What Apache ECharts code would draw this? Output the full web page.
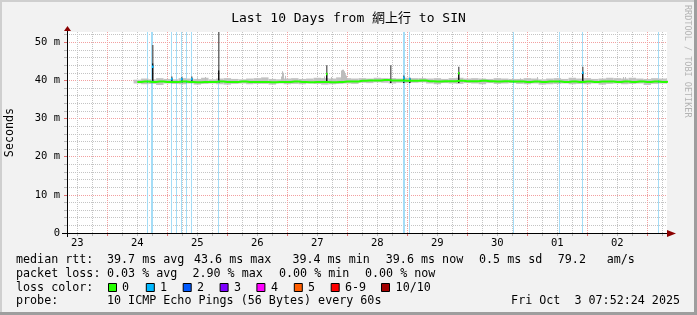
<!DOCTYPE html>
<html><head><meta charset="utf-8">
<script src="https://cdn.jsdelivr.net/npm/echarts@6/dist/echarts.min.js"></script>
<style>html,body{margin:0;padding:0;background:#f2f2f2}#c{width:697px;height:315px}</style>
</head><body><div id="c"></div>
<script>
// ---------- data ----------
const titleText = 'Last 10 Days from 網上行 to SIN';
const yAxisTitle = 'Seconds';
const dayLabels = ['23','24','25','26','27','28','29','30','01','02'];
const yTickValues = [0,10,20,30,40,50];
const yTickLabels = ['0','10 m','20 m','30 m','40 m','50 m'];
const axisStartHour = 7.8733;     // Sep 23 07:52:24 (hours since Sep 23 00:00)
const axisSpanHours = 240;        // 10 days
const yMaxMs = 52.7;
const sampleStartHour = 36;
const sampleStepHours = 3;

const medianMs = [
39.6,39.7,39.6,39.7,39.6,39.6,39.7,39.6,39.5,39.6,39.6,39.7,39.6,39.6,39.7,39.6,39.6,
39.6,39.5,39.6,39.6,39.7,39.6,39.5,39.6,39.6,39.5,39.6,39.7,39.7,
39.9,40.0,40.0,40.1,40.0,40.0,39.9,39.9,40.0,
39.8,39.7,39.8,39.8,39.9,39.8,39.8,39.9,39.8,39.7,39.8,39.7,
39.7,39.6,39.7,39.6,39.7,39.7,39.6,39.7,39.6,39.7,39.6,39.7,39.7,39.6,39.7,39.6,39.7,39.6,39.7,39.6,39.7
];
const smokeHiMs = [
40.2,40.5,40.3,40.6,40.4,40.3,40.6,40.5,40.4,40.7,40.3,40.5,40.6,40.4,40.3,40.5,40.6,
40.8,40.4,40.3,40.5,40.6,40.4,40.5,40.7,40.6,40.5,40.8,40.6,40.5,
40.6,40.5,40.7,40.6,40.6,40.5,40.7,40.6,40.6,
40.5,40.6,40.4,40.6,40.7,40.5,40.6,40.5,40.4,40.6,40.5,40.4,
40.4,40.6,40.5,40.3,40.5,40.6,40.4,40.7,40.5,40.6,40.4,40.5,40.7,40.6,40.5,40.7,40.5,40.4,40.6,40.5,40.6
];
const smokeLoMs = [
39.2,39.0,39.1,38.8,39.2,39.1,39.0,39.2,38.9,39.1,39.2,39.0,38.9,39.1,39.2,39.0,39.1,
39.1,38.9,39.2,39.0,39.1,39.0,39.2,39.1,38.9,39.0,39.1,39.2,39.1,
39.4,39.3,39.5,39.4,39.2,39.4,39.3,39.4,39.5,
39.2,39.0,39.3,39.2,39.1,39.3,39.2,39.0,39.3,39.1,39.2,39.3,
39.1,39.0,39.2,38.9,39.0,39.1,39.2,39.0,39.1,39.0,39.2,38.9,39.1,39.2,39.0,39.1,39.2,38.8,39.1,39.2,39.1
];
// [hour, top of dark smoke, top of grey smoke, median at spike (null = none), lost pings]
const spikes = [
[42.1,44.5,49.3,43.6,1],
[49.6,40.7,41.0,40.4,1],
[53.6,40.6,40.9,40.4,1],
[57.7,40.7,41.0,40.4,1],
[68.6,42.7,52.7,null,0],
[111.6,41.9,44.0,41.7,0],
[137.4,39.8,44.0,null,0],
[142.3,41.0,41.3,40.7,1],
[144.9,40.5,40.7,40.3,1],
[164.5,42.2,43.6,41.9,0],
[214.0,42.3,43.6,42.0,1]
];
const spikeBaseMs = 39.6;
// light grey smoke bumps [hour, top]
const bumps = [
[60.0,40.8],[63.3,40.9],[93.6,41.0],[94.0,42.4],[94.4,42.0],[95.2,41.2],[110.8,41.0],[113.6,40.9],
[117.6,42.6],[118.0,42.8],[118.4,42.8],[118.8,42.4],[119.2,41.6],[119.6,41.2],
[150.0,40.9],[189.3,40.6],[196.0,40.9],[230.4,40.9],[231.2,40.9]
];
// hours with 1 lost ping
const lossHours = [40.24,41.8,42.2,49.84,51.84,53.84,55.84,57.84,68.64,142.6,143.0,145.04,186.3,205.04,214.24,244.3];

const lossLabels = ['0','1','2','3','4','5','6-9','10/10'];
const lossColors = ['#26ff00','#00b8ff','#0059ff','#7e00ff','#ff00ff','#ff5e00','#ff0000','#a10000'];

const rttRow = ['median rtt:','39.7 ms avg','43.6 ms max','39.4 ms min','39.6 ms now','0.5 ms sd','79.2','am/s'];
const lossRow = ['packet loss:','0.03 % avg','2.90 % max','0.00 % min','0.00 % now'];
const colorRowLabel = 'loss color:';
const probeRow = ['probe:','10 ICMP Echo Pings (56 Bytes) every 60s'];
const stampText = 'Fri Oct  3 07:52:24 2025';
const watermark = 'RRDTOOL / TOBI OETIKER';

// ---------- chart ----------
const mono = '"DejaVu Sans Mono", "Noto Sans CJK TC", monospace';
const xMin = axisStartHour, xMax = axisStartHour + axisSpanHours;
const minorX = [], majorX = [], labelX = [];
for (let h = 0; h <= 264; h += 6) {
  if (h < xMin || h > xMax) continue;
  if (h % 24 === 0) majorX.push(h); else minorX.push(h);
}
for (let d = 0; d < dayLabels.length; d++) labelX.push(12 + 24 * d);
const minorY = [];
for (let v = 2; v < yMaxMs; v += 2) if (v % 10 !== 0) minorY.push(v);

const medianData = medianMs.map((m, i) => [sampleStartHour + i * sampleStepHours, m]);
const smokeData = medianMs.map((m, i) => [sampleStartHour + i * sampleStepHours, smokeLoMs[i], smokeHiMs[i]]);
function medianAt(h) {
  let i = Math.round((h - sampleStartHour) / sampleStepHours);
  i = Math.max(0, Math.min(medianMs.length - 1, i));
  return medianMs[i];
}

const chart = echarts.init(document.getElementById('c'), null, {renderer: 'canvas'});

const legendRowsY = [259.5, 273.5, 287.5, 301];
const rttX = [16,107,194,292.4,385.8,479,557.8,606.7];
const lossX = [16,107,192.4,279,365];
const sqX = [108,145.8,182.7,219.6,256.4,293.8,330.7,381];
const sqLabelX = [122,160,197,234,271,308,345,395.6];
const font = '11.7px ' + mono;
function txt(x, y, s, extra) {
  return {type:'text', x:x, y:y, silent:true, z:100,
    style:Object.assign({text:s, font:font, fill:'#000', align:'left', verticalAlign:'middle'}, extra || {})};
}
const graphics = [
  {type:'rect', shape:{x:0,y:0,width:697,height:2}, style:{fill:'#cfcfcf'}, silent:true, z:100},
  {type:'rect', shape:{x:0,y:0,width:2,height:315}, style:{fill:'#cfcfcf'}, silent:true, z:100},
  {type:'rect', shape:{x:694,y:0,width:3,height:315}, style:{fill:'#9e9e9e'}, silent:true, z:100},
  {type:'rect', shape:{x:0,y:312,width:697,height:3}, style:{fill:'#9e9e9e'}, silent:true, z:100},
  {type:'line', shape:{x1:62,y1:233.5,x2:668,y2:233.5}, style:{stroke:'#000',lineWidth:1}, silent:true, z:90},
  {type:'line', shape:{x1:67.5,y1:30,x2:67.5,y2:237}, style:{stroke:'#000',lineWidth:1}, silent:true, z:90},
  {type:'polygon', shape:{points:[[667,230],[676,233.5],[667,237]]}, style:{fill:'#8b0000'}, silent:true, z:91},
  {type:'polygon', shape:{points:[[64,31],[67.5,26],[71,31]]}, style:{fill:'#8b0000'}, silent:true, z:91},
  {type:'text', x:687, y:5, rotation:-Math.PI/2, silent:true, z:100,
    style:{text:watermark, font:'8.5px ' + mono, fill:'#b4b4b4', align:'left', verticalAlign:'middle'}}
];
rttRow.forEach((s, i) => graphics.push(txt(rttX[i], legendRowsY[0], s)));
lossRow.forEach((s, i) => graphics.push(txt(lossX[i], legendRowsY[1], s)));
graphics.push(txt(16, legendRowsY[2], colorRowLabel));
lossLabels.forEach((s, i) => {
  graphics.push({type:'rect', shape:{x:sqX[i]+0.5, y:283.5, width:8, height:8}, style:{fill:lossColors[i], stroke:'#000', lineWidth:1}, silent:true, z:100});
  graphics.push(txt(sqLabelX[i], legendRowsY[2], s));
});
graphics.push(txt(16, legendRowsY[3], probeRow[0]));
graphics.push(txt(107, legendRowsY[3], probeRow[1]));
graphics.push(txt(680, legendRowsY[3], stampText, {align:'right'}));

const option = {
  animation: false,
  backgroundColor: '#f2f2f2',
  title: {text: titleText, left: 'center', top: 7,
    textStyle: {fontFamily: mono, fontSize: 13, fontWeight: 'normal', color: '#000'}},
  grid: {left: 67, top: 32, width: 600, height: 201, show: true, backgroundColor: '#ffffff', borderWidth: 0, z: -1,
    containLabel: false, outerBoundsMode: 'none'},
  xAxis: [
    {type:'value', position:'bottom', min:xMin, max:xMax,
      axisLine:{show:false, onZero:false},
      axisTick:{show:true, customValues:minorX, length:3, inside:false, lineStyle:{color:'#b8b8b8'}},
      splitLine:{show:true, lineStyle:{color:'#c4c4c4', type:[1,1], width:1}},
      axisLabel:{show:true, customValues:labelX, margin:5, color:'#000', fontFamily:mono, fontSize:10.5,
        formatter: v => dayLabels[Math.round((v - 12) / 24)]}},
    {type:'value', position:'bottom', min:xMin, max:xMax,
      axisLine:{show:false, onZero:false},
      axisTick:{show:true, customValues:majorX, length:3, inside:false, lineStyle:{color:'#e07070'}},
      splitLine:{show:true, lineStyle:{color:'#f2a0a0', type:[1,1], width:1}},
      axisLabel:{show:false}}
  ],
  yAxis: [
    {type:'value', position:'left', min:0, max:yMaxMs,
      name: yAxisTitle, nameLocation:'middle', nameGap:51, nameRotate:90,
      nameTextStyle:{fontFamily:mono, fontSize:11.7, color:'#000'},
      axisLine:{show:false, onZero:false},
      axisTick:{show:true, customValues:minorY, length:3, inside:false, lineStyle:{color:'#b8b8b8'}},
      splitLine:{show:true, lineStyle:{color:'#c4c4c4', type:[1,1], width:1}},
      axisLabel:{show:false}},
    {type:'value', position:'left', min:0, max:yMaxMs,
      axisLine:{show:false, onZero:false},
      axisTick:{show:true, customValues:yTickValues, length:3, inside:false, lineStyle:{color:'#e07070'}},
      splitLine:{show:true, lineStyle:{color:'#f2a0a0', type:[1,1], width:1}},
      axisLabel:{show:true, customValues:yTickValues, margin:7, color:'#000', fontFamily:mono, fontSize:10.5,
        formatter: v => yTickLabels[Math.round(v / 10)]}}
  ],
  series: [
    {name:'lossbars', type:'custom', xAxisIndex:0, yAxisIndex:0, clip:true, silent:true,
      data: lossHours.map(h => [h]),
      renderItem(params, api) {
        const h = api.value(0);
        const a = api.coord([h, yMaxMs]), b = api.coord([h, 0]);
        return {type:'rect', shape:{x:Math.floor(a[0]), y:a[1], width:1, height:b[1]-a[1]}, style:{fill:'#a4dcf6'}};
      }},
    {name:'smoke', type:'custom', xAxisIndex:0, yAxisIndex:0, clip:true, silent:true,
      data: smokeData,
      renderItem(params, api) {
        const h = api.value(0);
        const a = api.coord([h - sampleStepHours / 2, api.value(2)]);
        const b = api.coord([h + sampleStepHours / 2, api.value(1)]);
        return {type:'rect', shape:{x:a[0], y:a[1], width:b[0]-a[0], height:b[1]-a[1]}, style:{fill:'#c2c2c2'}};
      }},
    {name:'bumps', type:'custom', xAxisIndex:0, yAxisIndex:0, clip:true, silent:true,
      data: bumps,
      renderItem(params, api) {
        const h = api.value(0);
        const a = api.coord([h, api.value(1)]), b = api.coord([h, spikeBaseMs]);
        return {type:'rect', shape:{x:Math.floor(a[0]), y:a[1], width:1, height:b[1]-a[1]}, style:{fill:'#bdbdbd'}};
      }},
    {name:'median', type:'line', xAxisIndex:0, yAxisIndex:0, data: medianData, step:'middle',
      symbol:'none', silent:true, clip:true, lineStyle:{color:lossColors[0], width:2}},
    {name:'spikes', type:'custom', xAxisIndex:0, yAxisIndex:0, clip:true, silent:true,
      data: spikes,
      renderItem(params, api) {
        const h = api.value(0), bt = api.value(1), gt = api.value(2), med = api.value(3), loss = api.value(4);
        const base = api.coord([h, spikeBaseMs]), pB = api.coord([h, bt]), pG = api.coord([h, gt]);
        const x = Math.floor(base[0]);
        const ch = [
          {type:'rect', shape:{x:x, y:pG[1], width:1.5, height:pB[1]-pG[1]}, style:{fill:'#6e6e6e'}},
          {type:'rect', shape:{x:x, y:pB[1], width:1.5, height:base[1]-pB[1]+1}, style:{fill:'#141414'}}
        ];
        if (!isNaN(med)) {
          const pm = api.coord([h, med]);
          ch.push({type:'rect', shape:{x:x, y:pm[1]-1.2, width:1.5, height:2.5}, style:{fill:lossColors[loss]}});
        }
        return {type:'group', children:ch};
      }},
    {name:'lossmarks', type:'custom', xAxisIndex:0, yAxisIndex:0, clip:true, silent:true,
      data: lossHours.map(h => [h, medianAt(h)]),
      renderItem(params, api) {
        const p = api.coord([api.value(0), api.value(1)]);
        return {type:'rect', shape:{x:Math.floor(p[0]), y:p[1]-1.2, width:1, height:2.5}, style:{fill:lossColors[1]}};
      }}
  ],
  graphic: graphics
};
chart.setOption(option);
</script>
</body></html>
